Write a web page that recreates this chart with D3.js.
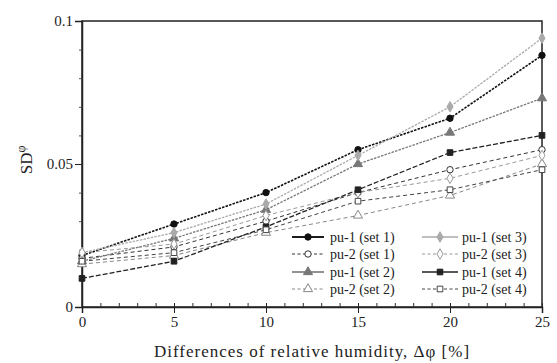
<!DOCTYPE html>
<html>
<head>
<meta charset="utf-8">
<script src="https://cdn.jsdelivr.net/npm/d3@7"></script>
<style>
  body { margin: 0; background: #fff; }
  text { font-family: "Liberation Serif", "DejaVu Serif", serif; }
</style>
</head>
<body>
<div id="chart"></div>
<script>
// humidity differences on the x axis
var xValues = [0, 5, 10, 15, 20, 25];

// SD values, one array per series
var pu1Set1 = [0.018, 0.029, 0.040, 0.055, 0.066, 0.088];
var pu2Set1 = [0.017, 0.021, 0.030, 0.040, 0.048, 0.055];
var pu1Set2 = [0.016, 0.024, 0.034, 0.050, 0.061, 0.073];
var pu2Set2 = [0.015, 0.018, 0.026, 0.032, 0.039, 0.050];
var pu1Set3 = [0.019, 0.026, 0.036, 0.053, 0.070, 0.094];
var pu2Set3 = [0.019, 0.022, 0.032, 0.040, 0.045, 0.053];
var pu1Set4 = [0.010, 0.016, 0.028, 0.041, 0.054, 0.060];
var pu2Set4 = [0.016, 0.019, 0.027, 0.037, 0.041, 0.048];

var seriesNames = ['pu-1 (set 1)', 'pu-2 (set 1)', 'pu-1 (set 2)', 'pu-2 (set 2)',
                   'pu-1 (set 3)', 'pu-2 (set 3)', 'pu-1 (set 4)', 'pu-2 (set 4)'];

var xTickLabels = ['0', '5', '10', '15', '20', '25'];
var yTickValues = [0, 0.05, 0.1];
var yTickLabels = ['0', '0.05', '0.1'];

// styles per series
var styles = [
  { color: '#111', dash: '2.5,1.2', sym: d3.symbolCircle, fill: true, w: 1.6 },
  { color: '#333', dash: '4,3', sym: d3.symbolCircle, fill: false, w: 1 },
  { color: '#777', dash: '2.5,1.2', sym: d3.symbolTriangle, fill: true, w: 1.3 },
  { color: '#888', dash: '4,3', sym: d3.symbolTriangle, fill: false, w: 1 },
  { color: '#aaa', dash: '2.5,1.2', sym: d3.symbolDiamond, fill: true, w: 1.3 },
  { color: '#999', dash: '4,3', sym: d3.symbolDiamond, fill: false, w: 1 },
  { color: '#222', dash: '5,2', sym: d3.symbolSquare, fill: true, w: 1.3 },
  { color: '#444', dash: '4,3', sym: d3.symbolSquare, fill: false, w: 1 }
];

var allSeries = [pu1Set1, pu2Set1, pu1Set2, pu2Set2, pu1Set3, pu2Set3, pu1Set4, pu2Set4];

const width = 557
const height = 363
const margin = { left: 82, right: 15, top: 21, bottom: 56 }

var svg = d3.select('#chart').append('svg')
  .attr('width', width)
  .attr('height', height)

var x = d3.scaleLinear().domain([0, 25]).range([margin.left, width - margin.right])
var y = d3.scaleLinear().domain([0, 0.1]).range([height - margin.bottom, margin.top])

// frame
svg.append('rect')
  .attr('x', x(0)).attr('y', y(0.1))
  .attr('width', x(25) - x(0)).attr('height', y(0) - y(0.1))
  .attr('fill', 'none').attr('stroke', '#222').attr('stroke-width', 1.5)

// x axis: minor ticks every 1, major every 5
svg.append('g')
  .attr('transform', 'translate(0,' + y(0) + ')')
  .call(d3.axisBottom(x).tickValues(d3.range(0, 26, 1)).tickSize(-4).tickFormat(''))
  .call(g => g.select('.domain').remove())
  .call(g => g.selectAll('line').attr('stroke', '#333'))

var xAxis = svg.append('g')
  .attr('transform', 'translate(0,' + y(0) + ')')
  .call(d3.axisBottom(x).tickValues(xValues).tickSize(6).tickPadding(3)
    .tickFormat((d, i) => xTickLabels[i]))
xAxis.select('.domain').attr('stroke', '#222').attr('stroke-width', 1.5)
xAxis.selectAll('.tick line').attr('stroke', '#222').attr('y1', -4)
xAxis.selectAll('text').attr('font-size', 15).attr('fill', '#222')

// y axis: minor every 0.01, major 0.05
svg.append('g')
  .attr('transform', 'translate(' + x(0) + ',0)')
  .call(d3.axisLeft(y).tickValues(d3.range(0, 0.101, 0.01)).tickSize(3).tickFormat(''))
  .call(g => g.select('.domain').remove())
  .call(g => g.selectAll('line').attr('stroke', '#555'))

var yAxis = svg.append('g')
  .attr('transform', 'translate(' + x(0) + ',0)')
  .call(d3.axisLeft(y).tickValues(yTickValues).tickSize(7).tickPadding(2)
    .tickFormat((d, i) => yTickLabels[i]))
yAxis.select('.domain').attr('stroke', '#222').attr('stroke-width', 1.5)
yAxis.selectAll('.tick line').attr('stroke', '#222')
yAxis.selectAll('text').attr('font-size', 15).attr('fill', '#222')

// axis titles
svg.append('text')
  .attr('x', 312).attr('y', 357)
  .attr('text-anchor', 'middle').attr('font-size', 17).attr('fill', '#222')
  .attr('letter-spacing', 1)
  .text('Differences of relative humidity, Δφ [%]')

var yTitle = svg.append('text')
  .attr('transform', 'translate(32,160) rotate(-90)')
  .attr('text-anchor', 'middle').attr('font-size', 17).attr('fill', '#222')
yTitle.append('tspan').text('SD')
yTitle.append('tspan').attr('font-size', 12).attr('dy', -7).text('φ')

// lines and markers
var line = d3.line()
  .x((d, i) => x(xValues[i]))
  .y(d => y(d))

var symbolSize = s => s.sym === d3.symbolTriangle ? 36 : 32

allSeries.forEach(function (vals, k) {
  var s = styles[k]
  svg.append('path')
    .datum(vals)
    .attr('fill', 'none')
    .attr('stroke', s.color)
    .attr('stroke-width', s.w)
    .attr('stroke-dasharray', s.dash)
    .attr('d', line)

  svg.append('g').selectAll('path')
    .data(vals)
    .enter().append('path')
    .attr('transform', (d, i) => 'translate(' + x(xValues[i]) + ',' + y(d) + ')')
    .attr('d', d3.symbol().type(s.sym).size(symbolSize(s)))
    .attr('fill', s.fill ? s.color : '#fff')
    .attr('stroke', s.color)
    .attr('stroke-width', 1)
})

// legend, two columns: sets 1-2 left, sets 3-4 right
var legendRows = [237, 254, 272, 289]
var legendCols = [{ x0: 292, x1: 324, tx: 330 }, { x0: 422, x1: 458, tx: 462 }]

seriesNames.forEach(function (name, k) {
  var s = styles[k]
  var col = legendCols[k < 4 ? 0 : 1]
  var row = legendRows[k % 4]
  var g = svg.append('g')
  g.append('line')
    .attr('x1', col.x0).attr('x2', col.x1)
    .attr('y1', row).attr('y2', row)
    .attr('stroke', s.color)
    .attr('stroke-width', k % 2 === 0 ? s.w + 0.3 : 1)
    .attr('stroke-dasharray', k % 2 === 0 ? null : '3,2.5')
  g.append('path')
    .attr('transform', 'translate(' + (col.x0 + col.x1) / 2 + ',' + row + ')')
    .attr('d', d3.symbol().type(s.sym).size(symbolSize(s)))
    .attr('fill', s.fill ? s.color : '#fff')
    .attr('stroke', s.color)
  g.append('text')
    .attr('x', col.tx).attr('y', row + 4.5)
    .attr('font-size', 14).attr('fill', '#222')
    .text(name)
})
</script>
</body>
</html>
